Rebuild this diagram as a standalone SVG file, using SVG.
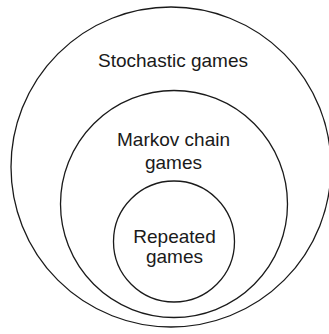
<svg xmlns="http://www.w3.org/2000/svg" width="329" height="334" viewBox="0 0 329 334">
<style>
.c{fill:none;stroke:#1a1a1a;stroke-width:1.3}
.t{font-family:"Liberation Sans",Arial,sans-serif;font-size:19px;fill:#1a1a1a;text-anchor:middle}
</style>
<rect width="329" height="334" fill="#fff"/>
<g id="stochastic">
<circle class="c" cx="171" cy="167" r="160"/>
<text class="t" x="173" y="67">Stochastic games</text>
</g>
<g id="markov">
<circle class="c" cx="174" cy="204" r="113.5"/>
<text class="t" x="173.5" y="146">Markov chain</text>
<text class="t" x="173.5" y="169">games</text>
</g>
<g id="repeated">
<circle class="c" cx="174" cy="241.5" r="60.5"/>
<text class="t" x="174.5" y="243">Repeated</text>
<text class="t" x="174.5" y="263">games</text>
</g>
<g id="connectors"></g>
</svg>
